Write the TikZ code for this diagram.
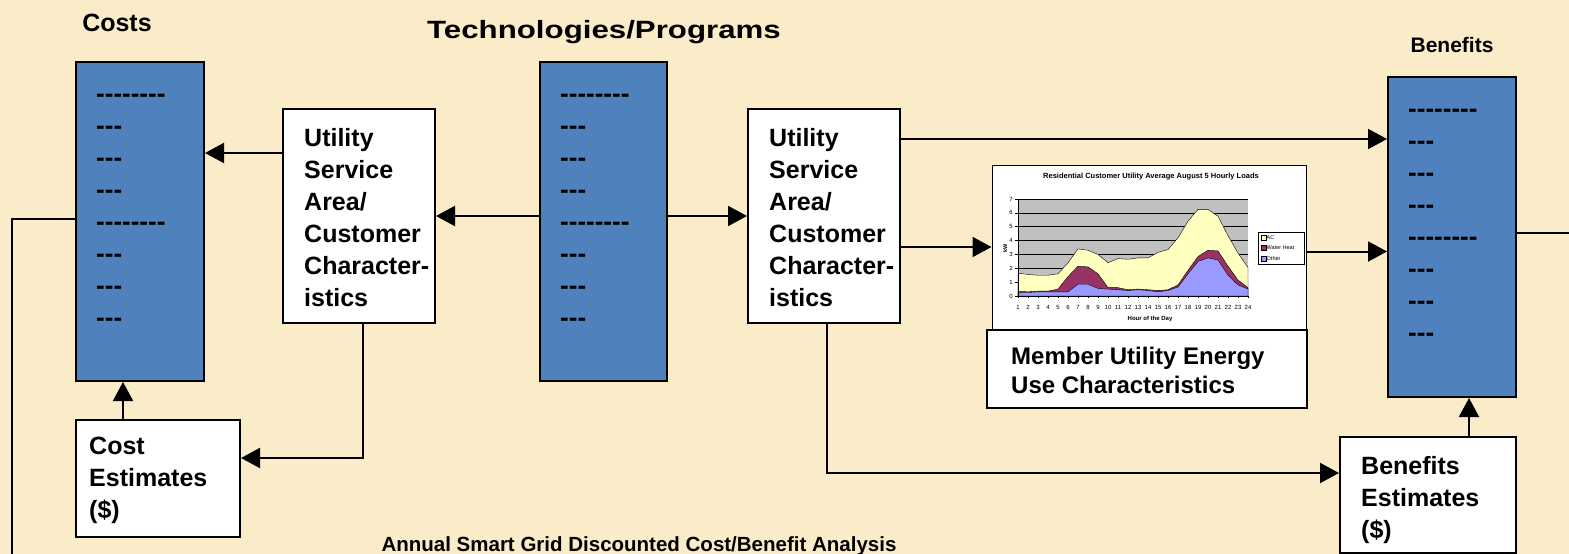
\documentclass[tikz,border=0pt]{standalone}
\usepackage{fontspec}
\setmainfont{Liberation Sans}
\usetikzlibrary{arrows.meta,calc}
\definecolor{bg}{RGB}{250,236,201}
\definecolor{boxblue}{RGB}{79,129,189}
\definecolor{acyel}{RGB}{255,255,192}
\definecolor{whmar}{RGB}{153,51,102}
\definecolor{othblue}{RGB}{153,153,255}
\definecolor{plotgray}{RGB}{192,192,192}
\newcommand\hy{\hbox{-}}
\newcommand\longd{\hy\hy\hy\hy\hy\hy\hy\hy}
\newcommand\shortd{\hy\hy\hy}
\tikzset{
  bluebox/.style={draw=black, line width=2pt, fill=boxblue, inner sep=0pt},
  wbox/.style={draw=black, line width=2pt, fill=white, inner sep=0pt},
  boxtxt/.style={anchor=north west, align=left, inner sep=0pt,
    font=\bfseries\fontsize{25}{32}\selectfont},
  conn/.style={line width=2pt, -{Triangle[length=19pt,width=20pt]}},
  link/.style={line width=2pt},
  dashtxt/.style={anchor=base west, inner sep=0pt, font=\bfseries\fontsize{26}{32}\selectfont},
  lbl/.style={anchor=base, inner sep=0pt},
  tiny/.style={inner sep=0pt, font=\fontsize{6}{7}\selectfont},
}
\begin{document}
\begin{tikzpicture}[x=1pt, y=-1pt]
\useasboundingbox (0,0) rectangle (1569,554);
\fill[bg] (0,0) rectangle (1569,554);

% headings
\node[lbl, font=\bfseries\fontsize{25}{30}\selectfont] (hcost) at (117,31) {Costs};
\node[lbl, font=\bfseries\fontsize{25}{30}\selectfont] (htech) at (604,38) {\scalebox{1.25}[1]{Technologies/Programs}};
\node[lbl, font=\bfseries\fontsize{21}{25}\selectfont] (hben) at (1452,52) {Benefits};
\node[lbl, font=\bfseries\fontsize{20.5}{25}\selectfont] (htitle) at (639,551) {Annual Smart Grid Discounted Cost/Benefit Analysis};

% blue columns
\node[bluebox, minimum width=128pt, minimum height=319pt] (costs) at (140,221.5) {};
\node[bluebox, minimum width=127pt, minimum height=319pt] (tech) at (603.5,221.5) {};
\node[bluebox, minimum width=128pt, minimum height=320pt] (benefits) at (1452,237) {};
\foreach \b in {costs,tech,benefits}{
  \foreach \i/\t in {0/\longd,1/\shortd,2/\shortd,3/\shortd,4/\longd,5/\shortd,6/\shortd,7/\shortd}{
    \node[dashtxt] (d-\b-\i) at ($(\b.north west)+(21,{41+32*\i})$) {\t};
  }
}

% white boxes
\node[wbox, minimum width=152pt, minimum height=214pt] (util1) at (359,216) {};
\node[boxtxt] (util1t) at ($(util1.north west)+(22,20)$)
  {Utility\\Service\\Area/\\Customer\\Character-\\istics};
\node[wbox, minimum width=152pt, minimum height=214pt] (util2) at (824,216) {};
\node[boxtxt] (util2t) at ($(util2.north west)+(22,20)$)
  {Utility\\Service\\Area/\\Customer\\Character-\\istics};
\node[wbox, minimum width=164pt, minimum height=117pt] (costest) at (158,478.5) {};
\node[boxtxt] (costestt) at ($(costest.north west)+(14,18)$) {Cost\\Estimates\\(\$)};
\node[wbox, minimum width=176pt, minimum height=116pt] (benest) at (1428,495) {};
\node[boxtxt] (benestt) at ($(benest.north west)+(22,20)$) {Benefits\\Estimates\\(\$)};

% chart
\node[draw=black, line width=1pt, fill=white, minimum width=314pt, minimum height=165pt, inner sep=0pt] (chart) at (1149,247.5) {};
\node[wbox, minimum width=320pt, minimum height=78pt] (member) at (1147,369) {};
\node[boxtxt, font=\bfseries\fontsize{24}{29}\selectfont] (membert) at ($(member.north west)+(25,18)$)
  {Member Utility Energy\\Use Characteristics};
\node[inner sep=0pt, font=\bfseries\fontsize{7.5}{9}\selectfont] (ctitle) at (1151,177) {Residential Customer Utility Average August 5 Hourly Loads};
\begin{scope}[shift={(1008pt,-296pt)}, x=10pt, y=13.857pt]
  \fill[plotgray] (1,0) rectangle (24,7);
  \foreach \v in {1,...,7} \draw[line width=0.5pt] (1,\v) -- (24,\v);
  \filldraw[fill=acyel, draw=black, line width=0.4pt] (1,0) -- (1,1.65) -- (2,1.55) -- (3,1.5) -- (4,1.5) -- (5,1.6) -- (6,2.4) -- (7,3.4) -- (8,3.3) -- (9,3.0) -- (10,2.4) -- (11,2.7) -- (12,2.65) -- (13,2.75) -- (14,2.75) -- (15,3.15) -- (16,3.35) -- (17,4.2) -- (18,5.4) -- (19,6.25) -- (20,6.25) -- (21,5.75) -- (22,4.35) -- (23,3.1) -- (24,2.05) -- (24,0) -- cycle;
  \filldraw[fill=whmar, draw=black, line width=0.4pt] (1,0) -- (1,0.35) -- (2,0.3) -- (3,0.35) -- (4,0.35) -- (5,0.5) -- (6,1.4) -- (7,2.15) -- (8,2.1) -- (9,1.6) -- (10,0.6) -- (11,0.6) -- (12,0.45) -- (13,0.5) -- (14,0.45) -- (15,0.4) -- (16,0.45) -- (17,0.8) -- (18,1.85) -- (19,2.85) -- (20,3.3) -- (21,3.25) -- (22,2.15) -- (23,1.15) -- (24,0.6) -- (24,0) -- cycle;
  \filldraw[fill=othblue, draw=black, line width=0.4pt] (1,0) -- (1,0.25) -- (2,0.25) -- (3,0.3) -- (4,0.3) -- (5,0.3) -- (6,0.3) -- (7,0.85) -- (8,0.85) -- (9,0.55) -- (10,0.5) -- (11,0.45) -- (12,0.4) -- (13,0.45) -- (14,0.4) -- (15,0.3) -- (16,0.4) -- (17,0.65) -- (18,1.6) -- (19,2.5) -- (20,2.75) -- (21,2.6) -- (22,1.5) -- (23,0.8) -- (24,0.5) -- (24,0) -- cycle;
  \draw[line width=0.6pt] (1,7) -- (1,0) -- (24,0);
  \foreach \v in {0,...,7}{
    \draw[line width=0.5pt] (1,\v) -- ++(-3pt,0);
    \node[tiny, anchor=east] (yl\v) at ([xshift=-5pt]1,\v) {\v};
  }
  \foreach \h in {1,...,24}{
    \draw[line width=0.5pt] (\h,0) -- ++(0,-2pt);
    \node[tiny] (xl\h) at ([yshift=-11pt]\h,0) {\h};
  }
\end{scope}
\node[inner sep=0pt, font=\bfseries\fontsize{6}{7}\selectfont] (xtitle) at (1150,319) {Hour of the Day};
\node[inner sep=0pt, rotate=90, font=\bfseries\fontsize{5.5}{6}\selectfont] (ytitle) at (1005,248) {kW};
\node[draw=black, line width=0.6pt, fill=white, minimum width=46pt, minimum height=32pt, inner sep=0pt] (legend) at (1281,248) {};
\filldraw[fill=acyel, line width=0.4pt] (1261,235) rectangle (1266,240);
\filldraw[fill=whmar, line width=0.4pt] (1261,245.5) rectangle (1266,250.5);
\filldraw[fill=othblue, line width=0.4pt] (1261,256) rectangle (1266,261);
\node[tiny, anchor=west, font=\fontsize{5.5}{6}\selectfont] (lg1) at (1266.5,237.5) {AC};
\node[tiny, anchor=west, font=\fontsize{5.5}{6}\selectfont] (lg2) at (1266.5,248) {Water Heat};
\node[tiny, anchor=west, font=\fontsize{5.5}{6}\selectfont] (lg3) at (1266.5,258.5) {Other};

% connectors
\draw[conn] (util1.north west) ++(0,45) coordinate (a1) -- (a1 -| costs.east);
\draw[conn] (tech.west |- util1.east) -- (util1.east);
\draw[conn] (tech.east |- util2.west) -- (util2.west);
\draw[conn] (util2.north east) ++(0,31) coordinate (a2) -- (a2 -| benefits.west);
\draw[conn] (util2.east) ++(0,31) coordinate (a3) -- (a3 -| chart.west);
\draw[conn] (chart.east) ++(0,4) coordinate (a4) -- (a4 -| benefits.west);
\draw[conn] (util1.south) ++(4,0) coordinate (a5) |- ($(costest.east)+(0,-20.5)$);
\draw[conn] (costest.north west) ++(48,0) coordinate (a6) -- (a6 |- costs.south);
\draw[conn] (util2.south) ++(3,0) coordinate (a7) |- ($(benest.west)+(0,-22)$);
\draw[conn] (benest.north east) ++(-48,0) coordinate (a8) -- (a8 |- benefits.south);
\coordinate (lc) at (12,570);
\draw[link] (costs.west) ++(0,-2.5) coordinate (a9) -| (lc);
\coordinate (rc) at (1590,233);
\draw[link] (benefits.east) ++(0,-4) coordinate (a10) -- (a10 -| rc);
\end{tikzpicture}
\end{document}
